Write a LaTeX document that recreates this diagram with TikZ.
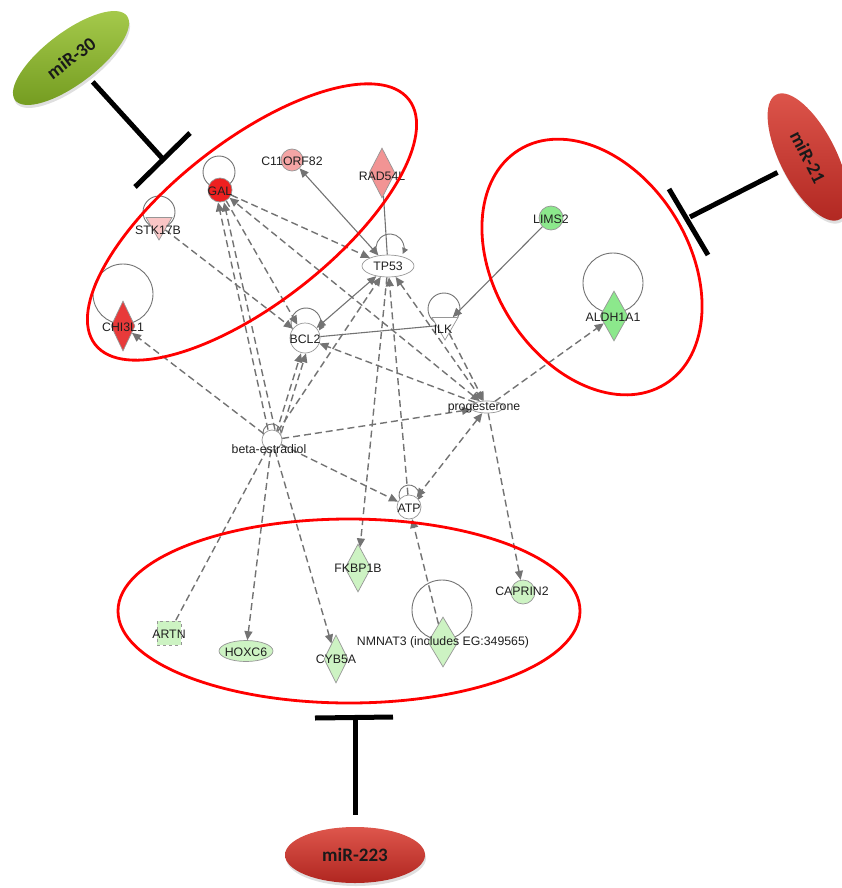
\documentclass[tikz,border=0pt]{standalone}
\usepackage{fontspec}
\setmainfont{Liberation Sans}
\newfontfamily\mirfont{Carlito}
\usetikzlibrary{shapes.geometric,arrows.meta,backgrounds,shadows}
\definecolor{eg}{RGB}{115,115,115}
\definecolor{gborder}{RGB}{150,150,150}
\definecolor{rgal}{RGB}{238,32,32}
\definecolor{rchi}{RGB}{232,58,58}
\definecolor{pc}{RGB}{245,165,165}
\definecolor{prad}{RGB}{242,148,148}
\definecolor{pstk}{RGB}{250,198,198}
\definecolor{gbright}{RGB}{140,232,140}
\definecolor{glight}{RGB}{205,243,195}
\definecolor{ovalred}{RGB}{255,0,0}
\definecolor{mgtop}{RGB}{168,204,78}
\definecolor{mgbot}{RGB}{118,158,34}
\definecolor{mrtop}{RGB}{222,86,76}
\definecolor{mrbot}{RGB}{176,38,32}
\tikzset{
  lbl/.style={font=\fontsize{12.3}{12.3}\selectfont, text=black!88, inner sep=0pt},
  gn/.style={draw=gborder, line width=0.7pt, inner sep=0pt},
  circ/.style={gn, circle, minimum size=#1},
  dia/.style 2 args={gn, diamond, minimum width=#1, minimum height=#2},
  tri/.style={gn, regular polygon, regular polygon sides=3, shape border rotate=180, minimum size=30pt},
  loopst/.style={draw=eg, line width=0.9pt},
  tip/.style={},
  de/.style={draw=eg, line width=1.4pt, dash pattern=on 7pt off 4pt, -{Triangle[length=9pt,width=8pt]}},
  dee/.style={draw=eg, line width=1.4pt, dash pattern=on 7pt off 4pt, {Triangle[length=9pt,width=8pt]}-{Triangle[length=9pt,width=8pt]}},
  den/.style={draw=eg, line width=1.4pt, dash pattern=on 7pt off 4pt},
  se/.style={draw=eg, line width=1.1pt, -{Triangle[length=9pt,width=8pt]}},
  see/.style={draw=eg, line width=1.1pt, {Triangle[length=9pt,width=8pt]}-{Triangle[length=9pt,width=8pt]}},
  sen/.style={draw=eg, line width=1.1pt},
  redoval/.style={draw=ovalred, line width=2.8pt},
  tbar/.style={draw=black, line width=5pt},
  mir/.style={ellipse, draw=none, inner sep=0pt, font=\mirfont\bfseries\fontsize{19}{19}\selectfont, text=black!90,
    drop shadow={opacity=0.25, shadow xshift=1pt, shadow yshift=-3pt}},
}
\begin{document}
\begin{tikzpicture}[x=1pt,y=-1pt]
\useasboundingbox (0,0) rectangle (842,888);

% ---------- gene nodes ----------
\node[circ=24pt, fill=rgal] (gal) at (220,190) {};
\node[circ=22pt, fill=pc] (c11) at (292,160) {};
\node[dia={26pt}{50pt}, fill=prad] (rad) at (382,173) {};
\node[tri, fill=pstk] (stk) at (159,225) {};
\node[dia={24pt}{50pt}, fill=rchi] (chi) at (123,326) {};
\node[gn, ellipse, minimum width=52pt, minimum height=22pt, fill=white] (tp53) at (388,266) {};
\node[circ=30pt, fill=white] (bcl2) at (305,338) {};
\node[tri, fill=white] (ilk) at (445,325) {};
\node[circ=24pt, fill=gbright] (lims) at (551,218) {};
\node[dia={28pt}{50pt}, fill=gbright] (aldh) at (614,316) {};
\node[gn, ellipse, minimum width=34pt, minimum height=12pt, fill=white] (prog) at (487,407) {};
\node[circ=20pt, fill=white] (beta) at (272,440) {};
\node[circ=24pt, fill=white] (atp) at (409,507) {};
\node[dia={26pt}{48pt}, fill=glight] (fkbp) at (358,568) {};
\node[circ=24pt, fill=glight] (caprin) at (523,592) {};
\node[gn, dashed, rectangle, minimum width=24pt, minimum height=24pt, fill=glight] (artn) at (169,633) {};
\node[gn, ellipse, minimum width=54pt, minimum height=21pt, fill=glight] (hoxc) at (246,651) {};
\node[dia={24pt}{48pt}, fill=glight] (cyb) at (336,659) {};
\node[dia={30pt}{50pt}, fill=glight] (nmn) at (443,642) {};

% ---------- edges and self loops (behind) ----------
\begin{scope}[on background layer]
  % self loops
  \draw[loopst] (219,172) circle[radius=16pt];
  \draw[loopst] (159,212) circle[radius=16pt];
  \draw[loopst] (123,294) circle[radius=30pt];
  \draw[loopst] (444,309) circle[radius=16pt];
  \draw[loopst] (613,283) circle[radius=30pt];
  \draw[loopst] (442,610) circle[radius=30pt];
  \draw[loopst, -{Triangle[length=6pt,width=6pt]}] (390,248) ++(200:14pt) arc[start angle=200, end angle=-25, radius=14pt];
  \draw[loopst, -{Triangle[length=6pt,width=6pt]}] (306,323) ++(210:15pt) arc[start angle=210, end angle=-30, radius=15pt];
  \draw[loopst, -{Triangle[length=6pt,width=6pt]}] (409,495) ++(210:10pt) arc[start angle=210, end angle=-30, radius=10pt];
  \draw[loopst] (272,433) ++(200:9pt) arc[start angle=200, end angle=-20, radius=9pt];

  % dashed relations
  \draw[de] (beta) -- (chi);
  \draw[de] (stk) -- (bcl2);
  \draw[de] ([xshift=-4pt]beta.north) -- ([xshift=-2pt]gal.south);
  \draw[de] ([xshift=3pt]beta.north) -- ([xshift=4pt]gal.south);
  \draw[de] (gal) -- (tp53);
  \draw[de] (gal) -- (bcl2);
  \draw[dee] (prog) -- (gal);
  \draw[de] (ilk) -- (prog);
  \draw[dee] (tp53) -- (prog);
  \draw[de] (beta) -- (tp53);
  \draw[de] (atp) -- (tp53);
  \draw[de] (tp53) -- (fkbp);
  \draw[de] (prog) -- (bcl2);
  \draw[de] ([xshift=-3pt]beta.north east) -- ([xshift=-4pt]bcl2.south);
  \draw[de] ([xshift=2pt]beta.north east) -- ([xshift=1pt]bcl2.south);
  \draw[de] (beta) -- (prog);
  \draw[dee] (prog) -- (atp);
  \draw[de] (prog) -- (aldh);
  \draw[de] (prog) -- (caprin);
  \draw[de] (beta) -- (atp);
  \draw[den] (beta) -- (artn);
  \draw[de] (beta) -- (hoxc);
  \draw[de] (beta) -- (cyb);
  \draw[de] (nmn) -- (atp);

  % solid relations
  \draw[see] (tp53) -- (c11);
  \draw[sen] (rad) -- (tp53);
  \draw[see] (bcl2) -- (tp53);
  \draw[sen] (bcl2) -- (ilk);
  \draw[se] (lims) -- (ilk);
\end{scope}

% ---------- labels ----------
\node[lbl] (gal-t) at (220,191) {GAL};
\node[lbl] (c11-t) at (292,161) {C11ORF82};
\node[lbl] (rad-t) at (382,176) {RAD54L};
\node[lbl] (stk-t) at (158,230) {STK17B};
\node[lbl] (chi-t) at (123,327) {CHI3L1};
\node[lbl] (tp53-t) at (388,266) {TP53};
\node[lbl] (bcl2-t) at (305,339) {BCL2};
\node[lbl] (ilk-t) at (443,329) {ILK};
\node[lbl] (lims-t) at (551,219) {LIMS2};
\node[lbl] (aldh-t) at (613,317) {ALDH1A1};
\node[lbl] (prog-t) at (484,408) {progesterone};
\node[lbl] (beta-t) at (269,449) {beta-estradiol};
\node[lbl] (atp-t) at (409,508) {ATP};
\node[lbl] (fkbp-t) at (358,568) {FKBP1B};
\node[lbl] (caprin-t) at (522,591) {CAPRIN2};
\node[lbl] (artn-t) at (169,634) {ARTN};
\node[lbl] (hoxc-t) at (246,652) {HOXC6};
\node[lbl] (cyb-t) at (336,659) {CYB5A};
\node[lbl] (nmn-t) at (443,642) {NMNAT3 (includes EG:349565)};

% ---------- red group ovals ----------
\node[draw=none, inner sep=0pt] (grp1) at (252,222) {};
\node[draw=none, inner sep=0pt] (grp2) at (592,267) {};
\node[draw=none, inner sep=0pt] (grp3) at (349,611) {};
\draw[redoval, rotate around={38:(grp1)}] (grp1) ellipse [x radius=199pt, y radius=81pt];
\draw[redoval, rotate around={-58:(grp2)}] (grp2) ellipse [x radius=138pt, y radius=97pt];
\draw[redoval] (grp3) ellipse [x radius=231pt, y radius=92pt];

% ---------- microRNAs ----------
\node[mir, rotate=37, minimum width=140pt, minimum height=52pt, top color=mgtop, bottom color=mgbot] (mir30) at (71,58) {miR-30};
\node[mir, rotate=-63, minimum width=140pt, minimum height=56pt, top color=mrtop, bottom color=mrbot] (mir21) at (808,157) {miR-21};
\node[mir, minimum width=140pt, minimum height=56pt, top color=mrtop, bottom color=mrbot] (mir223) at (355,855) {miR-223};

% ---------- inhibition bars ----------
\coordinate (t30) at (162,158);
\coordinate (t30a) at (135,187);
\coordinate (t30b) at (190,133);
\draw[tbar, shorten <=6pt] (mir30) -- (t30);
\draw[tbar] (t30a) -- (t30b);

\coordinate (t21) at (690,217);
\coordinate (t21a) at (669,189);
\coordinate (t21b) at (708,255);
\draw[tbar, shorten <=6pt] (mir21) -- (t21);
\draw[tbar] (t21a) -- (t21b);

\coordinate (t223) at (355,718);
\coordinate (t223a) at (315,718);
\coordinate (t223b) at (393,717);
\draw[tbar, shorten <=12pt] (mir223) -- (t223);
\draw[tbar] (t223a) -- (t223b);
\end{tikzpicture}
\end{document}
